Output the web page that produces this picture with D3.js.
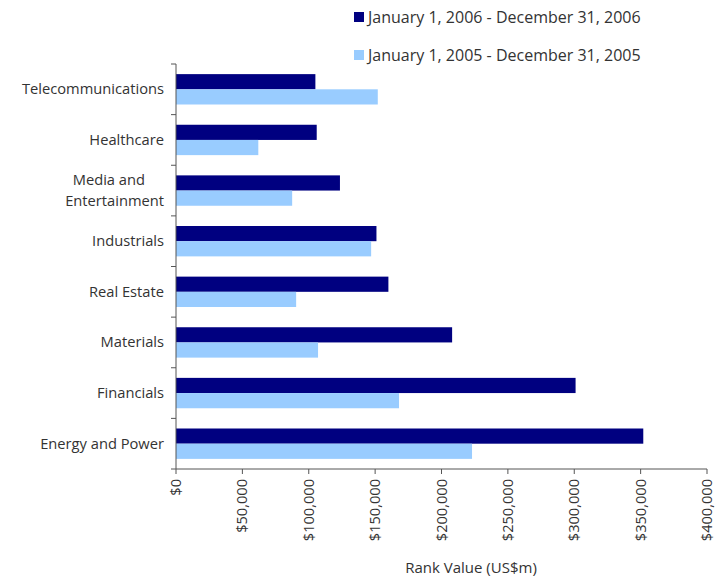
<!DOCTYPE html>
<html>
<head>
<meta charset="utf-8">
<script src="https://cdn.jsdelivr.net/npm/d3@7"></script>
<style>
  body { margin: 0; background: #fff; }
  text { font-family: "Open Sans", "Noto Sans", sans-serif; fill: #333; }
</style>
</head>
<body>
<div id="chart"></div>
<script>
// Categories, top to bottom
var categories = ["Telecommunications", "Healthcare", "Media and Entertainment",
  "Industrials", "Real Estate", "Materials", "Financials", "Energy and Power"];

// Rank values in US$m
var values2006 = [105000, 106000, 123500, 151000, 160000, 208000, 301000, 352000];
var values2005 = [152000, 62000, 87500, 147000, 90500, 107000, 168000, 223000];

var seriesNames = ["January 1, 2006 - December 31, 2006", "January 1, 2005 - December 31, 2005"];
var seriesColors = ["#000080", "#99CCFF"];
var tickValues = [0, 50000, 100000, 150000, 200000, 250000, 300000, 350000, 400000];

var width = 717, height = 576;
var margin = { top: 64, right: 10, bottom: 107, left: 176 };

var svg = d3.select("#chart").append("svg")
    .attr("width", width)
    .attr("height", height);

// Scales
var x = d3.scaleLinear().domain([0, 400000]).range([margin.left, 707]);
var y = d3.scaleBand().domain(categories).range([margin.top, height - margin.bottom]).paddingInner(0.4).paddingOuter(0.2);
var sub = d3.scaleBand().domain([0, 1]).range([0, y.bandwidth()]);

// Bars
var data = categories.map(function (c, i) { return { cat: c, vals: [values2006[i], values2005[i]] }; });

var groups = svg.selectAll(".group")
    .data(data)
    .join("g")
    .attr("class", "group")
    .attr("transform", d => "translate(0," + y(d.cat) + ")");

groups.selectAll("rect")
    .data(d => d.vals.map((v, k) => ({ v: v, k: k })))
    .join("rect")
    .attr("x", x(0))
    .attr("y", d => sub(d.k))
    .attr("width", d => x(d.v) - x(0))
    .attr("height", sub.bandwidth())
    .attr("fill", d => seriesColors[d.k]);

// Y axis line and ticks at band boundaries
var yTop = margin.top, yBottom = height - margin.bottom;
svg.append("line")
    .attr("x1", x(0)).attr("x2", x(0))
    .attr("y1", yTop).attr("y2", yBottom)
    .attr("stroke", "#555").attr("stroke-width", 1);

var step = (yBottom - yTop) / categories.length;
svg.selectAll(".ytick")
    .data(d3.range(categories.length + 1))
    .join("line")
    .attr("class", "ytick")
    .attr("x1", x(0) - 5).attr("x2", x(0))
    .attr("y1", d => yTop + d * step).attr("y2", d => yTop + d * step)
    .attr("stroke", "#555");

// Category labels
var labelLines = {
  "Media and Entertainment": ["Media and", "Entertainment"]
};
svg.selectAll(".ylabel")
    .data(categories)
    .join("text")
    .attr("class", "ylabel")
    .attr("text-anchor", "end")
    .attr("font-size", 14.7)
    .each(function (d) {
      var lines = labelLines[d] || [d];
      var cy = y(d) + y.bandwidth() / 2;
      var t = d3.select(this);
      lines.forEach(function (l, i) {
        t.append("tspan")
          .attr("x", i == 0 && lines.length > 1 ? 145 : 164)
          .attr("y", cy + 5 + (i - (lines.length - 1) / 2) * 21)
          .text(l);
      });
    });

// X axis
svg.append("line")
    .attr("x1", x(0)).attr("x2", x(400000))
    .attr("y1", yBottom).attr("y2", yBottom)
    .attr("stroke", "#555");

svg.selectAll(".xtick")
    .data(tickValues)
    .join("line")
    .attr("class", "xtick")
    .attr("x1", d => x(d)).attr("x2", d => x(d))
    .attr("y1", yBottom).attr("y2", yBottom + 5)
    .attr("stroke", "#555");

var fmt = d => "$" + d3.format(",")(d);
svg.selectAll(".xlabel")
    .data(tickValues)
    .join("text")
    .attr("class", "xlabel")
    .attr("font-size", 14.6)
    .attr("text-anchor", "end")
    .attr("transform", d => "translate(" + (x(d) + 5) + "," + (yBottom + 10) + ") rotate(-90)")
    .text(fmt);

// Axis title
svg.append("text")
    .attr("x", 471)
    .attr("y", 573)
    .attr("text-anchor", "middle")
    .attr("font-size", 15)
    .text("Rank Value (US$m)");

// Legend
var legend = svg.selectAll(".legend")
    .data(seriesNames)
    .join("g")
    .attr("class", "legend")
    .attr("transform", (d, i) => "translate(354," + (12 + i * 38) + ")");

legend.append("rect")
    .attr("width", 10).attr("height", 10)
    .attr("fill", (d, i) => seriesColors[i]);

legend.append("text")
    .attr("x", 14)
    .attr("y", 11)
    .attr("font-size", 16)
    .text(d => d);
</script>
</body>
</html>
